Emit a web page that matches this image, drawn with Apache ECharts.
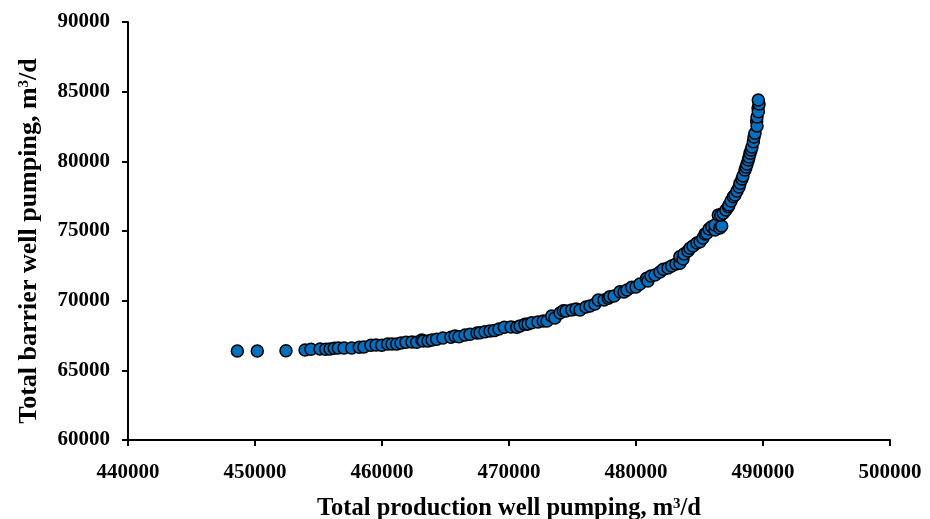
<!DOCTYPE html>
<html>
<head>
<meta charset="utf-8">
<script src="https://cdn.jsdelivr.net/npm/echarts@6/dist/echarts.min.js"></script>
<style>
  html, body { margin: 0; padding: 0; background: #fff; }
  #main { width: 930px; height: 519px; }
</style>
</head>
<body>
<div id="main"></div>
<script>
// total production well pumping (m3/d)
var productionPumping = [
  448610, 450180, 452440, 453940, 454410, 455120, 455570, 455910, 456240, 456560,
  457010, 457610, 458210, 458580, 459130, 459530, 459980, 460450, 460790, 461160,
  461500, 461890, 462360, 462730, 463130, 463250, 463620, 463940, 464310, 464800,
  465430, 465750, 466060, 466540, 466930, 467480, 467720, 468110, 468500, 468840,
  469210, 469630, 470160, 470610, 470870, 471260, 471500, 471790, 472280, 472700,
  472990, 473360, 473620, 474020, 474280, 474490, 474940, 475280, 475590, 476060,
  476380, 476770, 477030, 477480, 477820, 477950, 478270, 478740, 479060, 479290,
  479660, 480000, 480310, 480840, 480940, 481180, 481500, 481890, 482150, 482520,
  482810, 483150, 483460, 483460, 483700, 483780, 484090, 484250, 484490, 484800,
  485040, 485270, 485430, 485570, 485750, 485960, 486220, 486220, 486600, 486750,
  486480, 486680, 486870, 487080, 487270, 487320, 487480, 487660, 487790, 487950,
  488110, 488190, 488340, 488420, 488580, 488660, 488740, 488840, 488900, 488980,
  489060, 489130, 489240, 489290, 489370, 489500, 489530, 489530, 489610, 489630,
  489690, 489630
];
// total barrier well pumping (m3/d)
var barrierPumping = [
  66390, 66390, 66410, 66460, 66510, 66530, 66510, 66530, 66580, 66600,
  66600, 66600, 66650, 66670, 66800, 66820, 66800, 66890, 66890, 66890,
  66960, 67010, 67030, 67010, 67180, 67100, 67110, 67180, 67230, 67320,
  67370, 67460, 67410, 67540, 67590, 67680, 67700, 67770, 67820, 67850,
  67970, 68090, 68110, 68090, 68180, 68300, 68330, 68420, 68470, 68540,
  68540, 68900, 68760, 69110, 69280, 69260, 69330, 69400, 69330, 69550,
  69620, 69760, 70050, 70050, 70170, 70290, 70340, 70640, 70620, 70770,
  70960, 70980, 71200, 71600, 71410, 71770, 71840, 72060, 72250, 72340,
  72490, 72630, 72680, 73160, 72990, 73350, 73560, 73760, 73920, 74140,
  74230, 74500, 74790, 74840, 75140, 75310, 75070, 75430, 75220, 75360,
  76150, 76150, 76270, 76510, 76740, 76870, 77150, 77460, 77580, 77870,
  78160, 78420, 78730, 78950, 79380, 79590, 79810, 80100, 80310, 80580,
  80810, 81030, 81410, 81750, 82010, 82850, 82540, 83180, 83830, 83560,
  84110, 84400
];
var xTicks = [440000, 500000, 10000];
var yTicks = [60000, 90000, 5000];

var points = productionPumping.map(function (v, i) { return [v, barrierPumping[i]]; });

var chart = echarts.init(document.getElementById('main'));
var font = 'Liberation Serif, Times New Roman, serif';
var tickText = { color: '#000', fontFamily: font, fontWeight: 'bold', fontSize: 21 };
function nameText(size, pad) {
  return {
    color: '#000', fontFamily: font, fontWeight: 'bold', fontSize: size,
    padding: pad,
    rich: {
      sup: { color: '#000', fontFamily: font, fontWeight: 'bold', fontSize: 15, padding: [0, 0, 9, 0] }
    }
  };
}
function plain(v) { return String(v); }

chart.setOption({
  animation: false,
  backgroundColor: '#fff',
  grid: { left: 128, right: 40, top: 22, bottom: 79, outerBoundsMode: 'none' },
  xAxis: {
    type: 'value',
    min: xTicks[0], max: xTicks[1], interval: xTicks[2],
    name: 'Total production well pumping, m{sup|3}/d',
    nameLocation: 'middle',
    nameGap: 56,
    nameTextStyle: nameText(24.5, 0),
    axisLine: { show: true, onZero: false, lineStyle: { color: '#000', width: 2 } },
    axisTick: { show: true, length: 6, lineStyle: { color: '#000', width: 2 } },
    axisLabel: Object.assign({ margin: 22, formatter: plain }, tickText),
    splitLine: { show: false }
  },
  yAxis: {
    type: 'value',
    min: yTicks[0], max: yTicks[1], interval: yTicks[2],
    name: 'Total barrier well pumping, m{sup|3}/d',
    nameLocation: 'middle',
    nameGap: 86,
    nameTextStyle: nameText(26, [0, 20, 0, 0]),
    axisLine: { show: true, onZero: false, lineStyle: { color: '#000', width: 2 } },
    axisTick: { show: true, length: 6, lineStyle: { color: '#000', width: 2 } },
    axisLabel: Object.assign({ margin: 18, formatter: plain }, tickText),
    splitLine: { show: false }
  },
  series: [{
    type: 'scatter',
    data: points,
    symbol: 'circle',
    symbolSize: 12,
    itemStyle: { color: '#0070C0', borderColor: '#000', borderWidth: 1.5, opacity: 1 }
  }]
});
</script>
</body>
</html>
